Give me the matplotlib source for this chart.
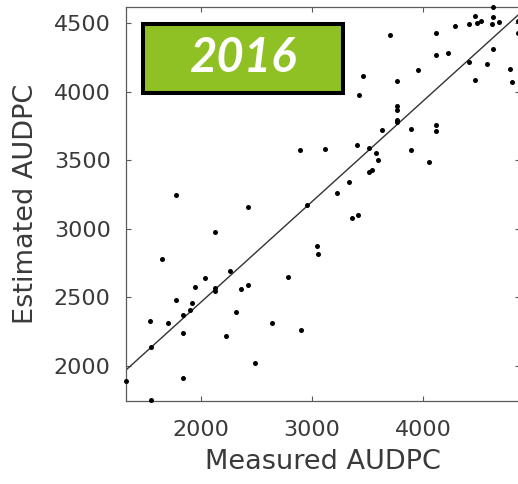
import matplotlib
matplotlib.use("Agg")
import matplotlib.pyplot as plt
from matplotlib.patches import Rectangle
import numpy as np

# Measured vs. estimated AUDPC, season 2016
measured = [2892, 1772, 4633, 4468, 4633, 4523, 4489, 4412, 4622, 4685,
            4286, 4856, 4114, 3705, 4856, 4114, 4225, 4633, 4412, 4574,
            3955, 4787, 4805, 3462, 3768, 4471, 3421, 3768, 3768, 3768,
            3768, 3631, 3892, 4114, 4114, 3117, 3408, 3516, 3579, 3595,
            3892, 4057, 3514, 3538, 3331, 3228, 2421, 2955, 2123, 3045,
            3057, 1649, 2259, 2036, 2787, 1949, 2123, 2123, 2360, 2421,
            1772, 1919, 1901, 1841, 1541, 1703, 2313, 2642, 2901, 1841,
            2225, 1550, 2486, 1322, 1841, 1550, 3412, 3358]
estimated = [3574, 3246, 4615, 4553, 4542, 4518, 4498, 4493, 4493, 4510,
             4480, 4515, 4431, 4415, 4429, 4265, 4281, 4311, 4218, 4201,
             4158, 4167, 4068, 4114, 4080, 4087, 3973, 3897, 3866, 3793,
             3776, 3722, 3725, 3754, 3713, 3582, 3611, 3589, 3553, 3504,
             3572, 3485, 3416, 3429, 3343, 3259, 3161, 3171, 2979, 2875,
             2816, 2780, 2692, 2644, 2647, 2574, 2566, 2549, 2559, 2588,
             2479, 2457, 2410, 2370, 2326, 2313, 2396, 2313, 2262, 2239,
             2219, 2135, 2024, 1893, 1915, 1750, 3101, 3077]

# fitted line: estimated = slope * measured + intercept
fit_slope = 0.7325
fit_intercept = 1001

x_ticks = [2000, 3000, 4000]
y_ticks = [2000, 2500, 3000, 3500, 4000, 4500]
x_limits = (1324, 4874)
y_limits = (1745, 4617)
year_label = "2016"

plt.rcParams['font.family'] = ['DejaVu Sans']

W, H = 518, 484
fig = plt.figure(figsize=(W / 100, H / 100), dpi=100)
ax = fig.add_axes([126 / W, (H - 401) / H, (520 - 126) / W, (401 - 7) / H])

ax.scatter(measured, estimated, s=13, color='black', linewidths=0,
           zorder=3, clip_on=False)

xs = np.array(x_limits)
ax.plot(xs, fit_slope * xs + fit_intercept, color='#333333', lw=1.0, zorder=2)

ax.set_xlim(*x_limits)
ax.set_ylim(*y_limits)
ax.set_xticks(x_ticks)
ax.set_yticks(y_ticks)

text_color = '#3a3a3a'
for s in ax.spines.values():
    s.set_color('#5a5a5a')
    s.set_linewidth(0.9)
ax.tick_params(axis='both', direction='in', length=3.5, width=0.8,
               color='#5a5a5a', labelsize=16, labelcolor=text_color,
               top=True, right=True)
ax.tick_params(axis='x', pad=14)
ax.tick_params(axis='y', pad=11)

ax.set_xlabel("Measured AUDPC", fontsize=19.5, color=text_color, labelpad=6)
ax.set_ylabel("Estimated AUDPC", fontsize=19.5, color=text_color, labelpad=11)

# year badge
bx0, by0, bx1, by1 = 143, 24, 343, 93
fig.patches.append(Rectangle((bx0 / W, (H - by1) / H), (bx1 - bx0) / W,
                             (by1 - by0) / H, transform=fig.transFigure,
                             facecolor='#8fc024', edgecolor='black',
                             linewidth=2.9, zorder=5))
fig.text((bx0 + bx1) / 2 / W, (H - (by0 + by1) / 2) / H, year_label,
         ha='center', va='center', color='white', fontsize=34,
         fontweight='bold', fontstyle='italic', family=['Lato', 'DejaVu Sans'],
         zorder=6)

fig.savefig("out.png", dpi=100)
